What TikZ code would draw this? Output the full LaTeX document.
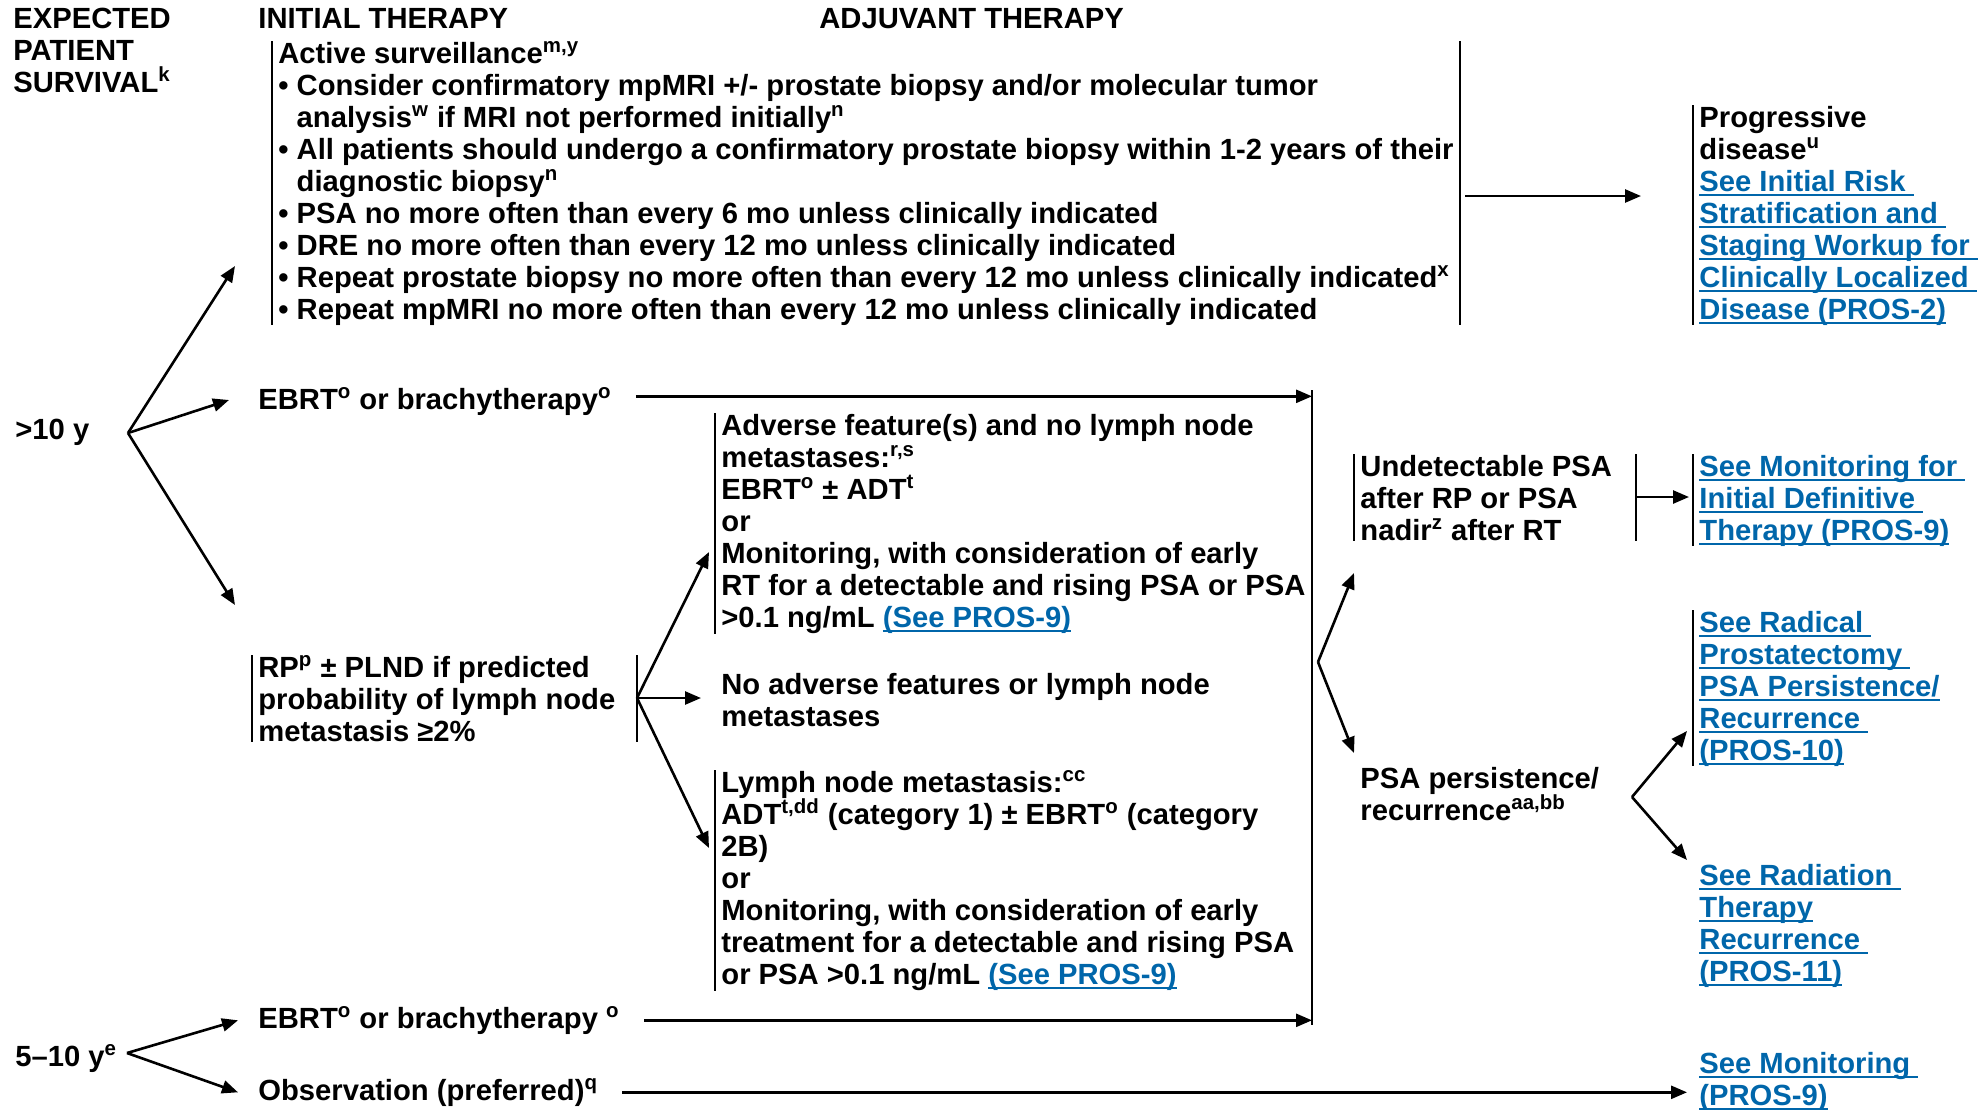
\documentclass[tikz,border=0pt]{standalone}
\usepackage{fontspec}
\setmainfont{Liberation Sans}
\usetikzlibrary{arrows.meta}
\definecolor{linkblue}{RGB}{0,102,170}
\newcommand\seelink[1]{{\color{linkblue}\setbox0\hbox{#1}\rlap{\rule[-2.3pt]{\wd0}{0.9pt}}\box0}}
\setlength\lineskiplimit{-20pt}

\begin{document}
\begin{tikzpicture}[x=0.5pt,y=-0.5pt,
  txt/.style={anchor=base west,align=left,inner xsep=3pt,inner ysep=0pt,
    font=\fontsize{14.6}{16}\selectfont\bfseries},
  bar/.style={line width=1.2pt},
  arr/.style={-{Triangle[length=8pt,width=6.5pt]},line width=1.3pt}]
\useasboundingbox (0,0) rectangle (1984,1109);

% headings (nodes placed by the baseline of their last line)
\node[txt] (surv) at (7,92) {EXPECTED\\PATIENT\\SURVIVAL\textsuperscript{k}};
\node[txt] (init) at (252,28) {INITIAL THERAPY};
\node[txt] (adj) at (813,28) {ADJUVANT THERAPY};

% >10 y
\node[txt] (gtten) at (9,439) {>10 y};
\node[txt] (as) at (272,319) {Active surveillance\textsuperscript{m,y}\\
  • Consider confirmatory mpMRI +/- prostate biopsy and/or molecular tumor\\
  \hphantom{• }analysis\textsuperscript{w} if MRI not performed initially\textsuperscript{n}\\
  • All patients should undergo a confirmatory prostate biopsy within 1-2 years of their\\
  \hphantom{• }diagnostic biopsy\textsuperscript{n}\\
  • PSA no more often than every 6 mo unless clinically indicated\\
  • DRE no more often than every 12 mo unless clinically indicated\\
  • Repeat prostate biopsy no more often than every 12 mo unless clinically indicated\textsuperscript{x}\\
  • Repeat mpMRI no more often than every 12 mo unless clinically indicated};
\node[txt] (prog) at (1693,319) {Progressive\\disease\textsuperscript{u}\\
  \seelink{See Initial Risk\ }\\\seelink{Stratification and\ }\\
  \seelink{Staging Workup for\ }\\\seelink{Clinically Localized\ }\\
  \seelink{Disease (PROS-2)}};
\node[txt] (ebrta) at (252,409) {EBRT\textsuperscript{o} or brachytherapy\textsuperscript{o}};
\node[txt] (rp) at (252,741) {RP\textsuperscript{p} ± PLND if predicted\\probability of lymph node\\metastasis ≥2\%};
\node[txt] (adv) at (715,627) {Adverse feature(s) and no lymph node\\metastases:\textsuperscript{r,s}\\
  EBRT\textsuperscript{o} ± ADT\textsuperscript{t}\\or\\Monitoring, with consideration of early\\
  RT for a detectable and rising PSA or PSA\\>0.1 ng/mL \seelink{(See PROS-9)}};
\node[txt] (noadv) at (715,726) {No adverse features or lymph node\\metastases};
\node[txt] (lnm) at (715,984) {Lymph node metastasis:\textsuperscript{cc}\\
  ADT\textsuperscript{t,dd} (category 1) ± EBRT\textsuperscript{o} (category\\2B)\\or\\
  Monitoring, with consideration of early\\treatment for a detectable and rising PSA\\
  or PSA >0.1 ng/mL \seelink{(See PROS-9)}};
\node[txt] (undet) at (1354,540) {Undetectable PSA\\after RP or PSA\\nadir\textsuperscript{z} after RT};
\node[txt] (mondef) at (1693,540) {\seelink{See Monitoring for\ }\\\seelink{Initial Definitive\ }\\\seelink{Therapy (PROS-9)}};
\node[txt] (psa) at (1354,820) {PSA persistence/\\recurrence\textsuperscript{aa,bb}};
\node[txt] (radp) at (1693,760) {\seelink{See Radical\ }\\\seelink{Prostatectomy\ }\\
  \seelink{PSA Persistence/}\\\seelink{Recurrence\ }\\\seelink{(PROS-10)}};
\node[txt] (radt) at (1693,981) {\seelink{See Radiation\ }\\\seelink{Therapy}\\
  \seelink{Recurrence\ }\\\seelink{(PROS-11)}};

% 5-10 y
\node[txt] (fiveten) at (9,1066) {5--10 y\textsuperscript{e}};
\node[txt] (ebrtb) at (252,1028) {EBRT\textsuperscript{o} or brachytherapy \textsuperscript{o}};
\node[txt] (obs) at (252,1100) {Observation (preferred)\textsuperscript{q}};
\node[txt] (mon) at (1693,1105) {\seelink{See Monitoring\ }\\\seelink{(PROS-9)}};

% branch points and arrow ends
\coordinate (b1) at (128,433);
\coordinate (t1) at (235,266);
\coordinate (t2) at (229,400);
\coordinate (t3) at (235,605);
\coordinate (rpr) at (637,698);
\coordinate (t4) at (709,552);
\coordinate (t5) at (709,848);
\coordinate (big) at (1312,390);
\coordinate (bigb) at (1312,1025);
\coordinate (b3) at (1318,662);
\coordinate (t6) at (1354,573);
\coordinate (t7) at (1354,753);
\coordinate (undr) at (1636,497);
\coordinate (b4) at (1632,797);
\coordinate (t8) at (1687,731);
\coordinate (t9) at (1687,860);
\coordinate (b5) at (127,1053);
\coordinate (asr) at (1465,196);

% bars
\draw[bar] (as.north west) -- (as.south west);
\draw[bar] (as.north east) -- (as.south east);
\draw[bar] (prog.north west) -- (prog.south west);
\draw[bar] (rp.north west) -- (rp.south west);
\draw[bar] (rpr |- rp.north) -- (rpr |- rp.south);
\draw[bar] (adv.north west) -- (adv.south west);
\draw[bar] (lnm.north west) -- (lnm.south west);
\draw[bar] (big) -- (bigb);
\draw[bar] (undet.north west) -- (undet.south west);
\draw[bar] (undr |- undet.north) -- (undr |- undet.south);
\draw[bar] (mondef.north west) -- (mondef.south west);
\draw[bar] (radp.north west) -- (radp.south west);

% arrows
\draw[arr] (b1) -- (t1);
\draw[arr] (b1) -- (t2);
\draw[arr] (b1) -- (t3);
\draw[arr] (asr) -- (prog.west |- asr) [shorten >=26pt];
\draw[arr] ([xshift=9pt,yshift=2.5pt]ebrta.east) coordinate (e1) -- (e1 -| big);
\draw[arr] (rpr) -- (t4);
\draw[arr] (rpr) -- ([xshift=-7pt]noadv.west |- rpr);
\draw[arr] (rpr) -- (t5);
\draw[arr] (b3) -- (t6);
\draw[arr] (b3) -- (t7);
\draw[arr, shorten >=2pt] (undr) -- (mondef.west |- undr);
\draw[arr] (b4) -- (t8);
\draw[arr] (b4) -- (t9);
\draw[arr] (b5) -- ([xshift=-7pt]ebrtb.west);
\draw[arr] (b5) -- ([xshift=-7pt]obs.west);
\draw[arr] ([xshift=9pt]ebrtb.east) -- (ebrtb.east -| big);
\draw[arr, shorten >=3pt] ([xshift=9pt]obs.east) -- (obs.east -| mon.west);
\end{tikzpicture}
\end{document}
